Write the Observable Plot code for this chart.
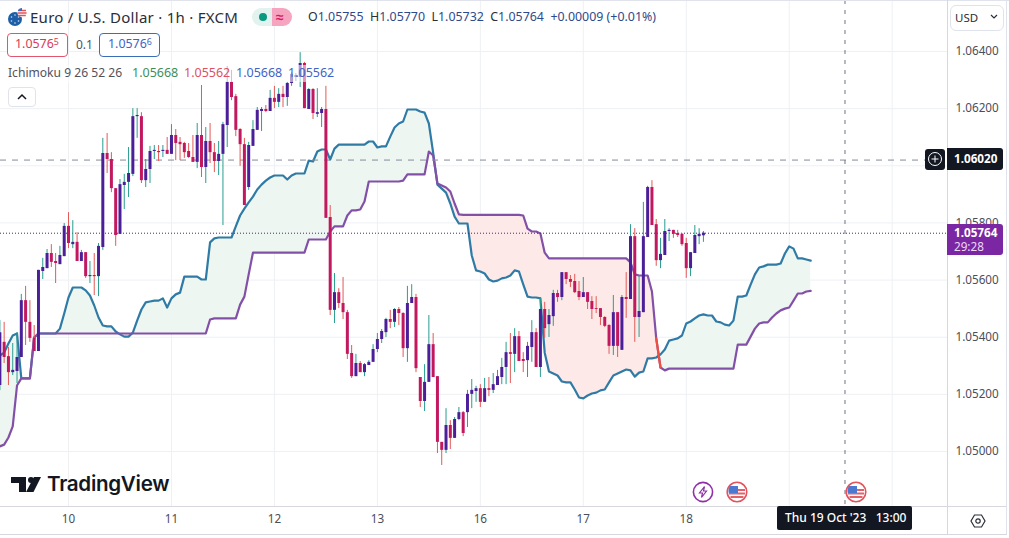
<!DOCTYPE html>
<html><head><meta charset="utf-8">
<script src="https://cdn.jsdelivr.net/npm/d3@7"></script>
<script src="https://cdn.jsdelivr.net/npm/@observablehq/plot@0.6"></script>
<style>
html,body{margin:0;padding:0;background:#fff}
#wrap{position:relative;width:1009px;height:538px;overflow:hidden;font-family:"Noto Sans",sans-serif;color:#2a2e39}
#wrap svg{display:block}
.t{position:absolute;white-space:pre;line-height:1}
.box{position:absolute;box-sizing:border-box}
sup{font-size:.72em;vertical-align:baseline;position:relative;top:-.35em}
</style></head><body><div id="wrap"></div>
<script>
// All candle and cloud values are points above this base price (1 point = 0.00001)
const basePrice = 1.05, pointSize = 0.00001;
const firstBar = -16;   // bar number of the first candle; bar 0 is the start of day 10, 24 bars per day
const openPts = [231,382,332,276,280,329,528,452,396,350,630,640,693,665,654,682,
788,724,732,665,696,612,616,612,714,1043,1022,920,760,931,942,970,1172,1172,948,987,1050,1050,1050,1054,
1040,1106,1082,1078,1050,1029,1012,1106,994,1085,1046,1015,1040,1141,1292,1242,1127,1074,924,1068,1124,1190,1197,1190,
1236,1222,1250,1239,1288,1309,1309,1358,1197,1267,1180,1183,1197,819,494,556,518,486,343,262,308,276,301,312,
357,392,416,462,452,497,483,360,518,539,259,175,242,374,262,32,4,91,46,112,136,136,200,210,
220,172,220,214,231,259,294,346,340,402,322,318,364,416,294,497,444,472,553,539,626,602,595,560,
539,556,525,500,500,469,441,368,486,354,539,532,752,469,486,749,924,794,668,686,770,774,763,760,
728,640,693,752,755];
const highPts = [458,452,364,378,416,550,578,528,441,634,676,707,724,693,718,798,
836,808,766,704,696,665,693,728,1096,1113,1046,920,952,970,1064,1200,1200,1186,1022,1068,1071,1071,1071,1099,
1144,1127,1099,1082,1078,1106,1148,1281,1134,1148,1078,1085,1152,1348,1334,1250,1130,1096,1082,1158,1204,1204,1211,1264,
1278,1270,1278,1292,1326,1323,1396,1362,1270,1270,1270,1204,1278,861,623,570,609,494,371,340,315,308,318,374,
413,427,466,494,500,504,486,578,584,550,259,304,476,413,262,32,150,108,119,154,140,214,252,228,
234,256,259,273,284,326,382,413,430,420,346,382,458,430,539,522,497,564,564,626,626,616,620,595,
609,556,542,542,500,472,444,546,486,546,626,794,780,616,872,928,948,812,746,812,780,774,774,763,
746,696,791,780,770];
const lowPts = [213,308,231,266,238,329,371,382,350,350,602,640,644,588,654,682,
710,710,665,665,606,588,546,542,704,973,906,718,760,847,889,962,1096,938,924,938,1022,1015,1029,1040,
1040,1018,1018,1026,1026,1012,990,959,938,1008,976,966,791,1064,1228,1102,998,861,914,1068,1124,1120,1186,1190,
1200,1204,1204,1208,1278,1295,1274,1200,1197,1162,1169,1134,816,476,448,500,462,322,256,262,276,262,301,312,
346,378,399,430,434,441,329,312,518,276,154,140,242,259,-7,-49,-7,7,46,108,52,84,150,172,
154,172,192,203,231,234,234,238,276,315,276,259,312,294,259,396,399,438,522,528,584,574,553,528,
539,497,462,483,441,434,340,336,329,354,466,532,382,399,486,749,791,648,640,686,735,746,749,718,
606,612,693,724,732];
const closePts = [416,329,276,284,329,528,452,396,350,634,644,693,662,658,686,788,
728,732,665,696,612,616,612,718,1043,1022,920,756,934,942,973,1172,1176,948,987,1050,1054,1046,1054,1040,
1106,1078,1074,1046,1029,1012,1106,994,1085,1046,1015,1040,1144,1292,1239,1124,1074,861,1071,1127,1194,1197,1190,1236,
1222,1250,1239,1288,1320,1316,1358,1200,1267,1183,1186,1197,816,494,556,518,486,340,262,308,276,304,312,357,
392,420,462,452,497,483,360,518,539,290,175,242,374,259,32,4,91,46,112,136,63,200,214,220,
172,220,214,234,262,294,346,340,402,315,315,368,416,294,497,430,476,553,539,626,602,592,556,539,
556,522,497,497,469,438,368,486,368,539,532,752,469,490,752,924,791,668,690,770,774,760,756,724,
640,696,756,760,764];
const spanAPts = [336,346,378,406,413,256,256,256,399,413,413,413,413,413,430,483,
539,574,574,574,564,546,511,469,441,438,438,420,410,402,402,416,458,497,522,525,528,528,536,504,
536,550,556,612,612,612,612,602,602,732,746,749,749,749,749,788,826,850,872,892,917,934,948,959,
966,966,966,952,966,973,973,973,1018,1015,1050,1057,1057,1022,1060,1074,1074,1074,1074,1074,1074,1074,1085,1085,
1064,1068,1068,1102,1134,1148,1155,1197,1197,1197,1190,1186,1148,1046,934,920,906,868,822,798,798,798,686,634,
630,623,602,595,598,606,609,616,634,630,585,542,539,539,536,346,280,273,266,245,242,242,217,189,
186,196,203,206,214,217,242,266,273,280,287,284,262,276,280,326,326,329,340,357,388,392,396,406,
448,455,466,476,480,476,476,455,452,444,441,458,542,542,546,584,620,644,648,654,654,654,658,693,718,710,676,676,672,668];
const spanBPts = [18,24,49,88,231,256,256,256,399,413,
413,413,413,413,413,413,413,413,413,413,
413,413,413,413,413,413,413,413,413,413,
413,413,413,413,413,413,413,413,413,413,
413,413,413,413,413,413,413,413,413,
462,466,466,466,466,466,466,514,542,620,696,696,696,696,696,696,696,696,696,696,696,696,696,
742,742,742,742,742,770,788,788,788,826,844,844,847,875,945,945,945,945,945,945,945,945,948,970,970,970,970,970,
1050,1036,938,931,924,910,868,830,828,828,828,828,828,828,828,828,828,828,828,828,828,828,826,780,770,770,763,696,
676,676,676,676,676,676,676,676,676,676,676,676,676,676,676,676,676,676,676,662,620,616,616,616,560,396,294,284,290,
290,290,290,290,290,290,290,290,290,290,290,290,290,290,290,374,374,374,402,430,448,452,452,469,483,494,500,504,528,553,553,560,562];
const gridPrices = [1.05,1.052,1.054,1.056,1.058,1.06,1.062,1.064];
const labelledPrices = [1.05,1.052,1.054,1.056,1.058,1.062,1.064];
const dayBars = [0,24,48,72,96,120,144,168,192];
const labelledDayBars = [0,24,48,72,96,120,144];
const dayLabels = ["10","11","12","13","16","17","18"];
const lastPrice = 1.05764, crosshairPrice = 1.0602, crosshairBar = 181;

const price = p => basePrice + p * pointSize;
const candles = openPts.map((o,i)=>({bar:firstBar+i,open:price(o),high:price(highPts[i]),low:price(lowPts[i]),close:price(closePts[i]),up:closePts[i]>=o}));
const cloud = spanAPts.map((a,i)=>({bar:firstBar+i,a:price(a),b:price(spanBPts[i])}));
const up = candles.filter(d=>d.up), down = candles.filter(d=>!d.up);
const crossSeg = cloud.filter(d=>d.bar>=137&&d.bar<=138);

const chart = Plot.plot({
  width:1009,height:538,marginTop:0,marginLeft:0,marginRight:62,marginBottom:32,
  style:{fontFamily:'"Noto Sans",sans-serif',fontSize:"11.7px",background:"#fff",color:"#4a4e59"},
  x:{domain:[-15.851,204.895],label:null},
  y:{domain:[1.048075,1.065785],label:null},
  marks:[
    Plot.ruleX(dayBars,{stroke:"#eef0f4",strokeWidth:1}),
    Plot.ruleY(gridPrices,{stroke:"#eef0f4",strokeWidth:1}),
    Plot.areaY(cloud,{x:"bar",y1:"a",y2:d=>Math.min(d.a,d.b),fill:"#edf6f0"}),
    Plot.areaY(cloud,{x:"bar",y1:"b",y2:d=>Math.min(d.a,d.b),fill:"#fdeae8"}),
    Plot.line(cloud,{x:"bar",y:"a",stroke:"#2f7ba6",strokeWidth:2.2}),
    Plot.line(cloud,{x:"bar",y:"b",stroke:"#8350a8",strokeWidth:2.2}),
    Plot.line(crossSeg,{x:"bar",y:"b",stroke:"#ef4f3f",strokeWidth:2.2}),
    Plot.ruleY([lastPrice],{stroke:"#3f2a70",strokeWidth:1,strokeDasharray:"1 2"}),
    Plot.ruleY([crosshairPrice],{stroke:"#868b98",strokeWidth:1,strokeDasharray:"6 6"}),
    Plot.ruleX([crosshairBar],{stroke:"#6f7480",strokeWidth:1,strokeDasharray:"4 6"}),
    Plot.ruleX(up,{x:"bar",y1:"low",y2:"high",stroke:"#2a9d8f",strokeWidth:1}),
    Plot.ruleX(down,{x:"bar",y1:"low",y2:"high",stroke:"#e25a58",strokeWidth:1}),
    Plot.ruleX(up,{x:"bar",y1:"open",y2:"close",stroke:"#4a1f98",strokeWidth:3}),
    Plot.ruleX(down,{x:"bar",y1:"open",y2:"close",stroke:"#c2185f",strokeWidth:3}),
    Plot.axisY(labelledPrices,{anchor:"right",tickSize:0,tickPadding:8,tickFormat:d3.format(".5f"),label:null,fill:"#4a4e59"}),
    Plot.axisX(labelledDayBars,{anchor:"bottom",tickSize:0,tickPadding:8,tickFormat:d=>dayLabels[labelledDayBars.indexOf(d)],label:null,fill:"#4a4e59"})
  ]
});
const wrap = document.getElementById("wrap");
wrap.appendChild(chart);

function put(html){wrap.insertAdjacentHTML("beforeend",html);}
function txt(x,y,s,style=""){put(`<div class="t" style="left:${x}px;top:${y}px;${style}">${s}</div>`);}
function box(x,y,w,h,style=""){put(`<div class="box" style="left:${x}px;top:${y}px;width:${w}px;height:${h}px;${style}"></div>`);}

// frame lines
box(0,0,1009,1,"background:#e0e3eb");
box(947,0,1,534,"background:#d6d8de");
box(0,506,1007,1,"background:#d6d8de");
box(0,534,1007,1,"background:#d6d8de");
box(1006,0,1,534,"background:#e0e3eb");

// header
put(`<svg style="position:absolute;left:7px;top:7px" width="20" height="20" viewBox="0 0 20 20">
<circle cx="8" cy="12" r="7" fill="#1d5fa6"/><g fill="#cfe0f2"><circle cx="8" cy="8" r=".8"/><circle cx="4.5" cy="10" r=".8"/><circle cx="11.5" cy="10" r=".8"/><circle cx="4.5" cy="14" r=".8"/><circle cx="11.5" cy="14" r=".8"/><circle cx="8" cy="16" r=".8"/></g>
<circle cx="15" cy="5.5" r="4.6" fill="#fff"/><path d="M11 3.5h8M10.6 6h9M11.2 8.5h7.6" stroke="#e0565a" stroke-width="1.3"/><path d="M15 1a4.6 4.6 0 0 0-4.2 3H15z" fill="#3f6ec0"/></svg>`);
txt(30,10,"Euro / U.S. Dollar · 1h · FXCM","font-size:15px;letter-spacing:.27px;color:#2a2e39");
box(252,8,20,18,"background:#e2f2ee;border-radius:9px 0 0 9px");
box(272,8,20,18,"background:#f6a5c0;border-radius:0 9px 9px 0");
put(`<div class="box" style="left:259px;top:13px;width:8px;height:8px;border-radius:50%;background:#089981"></div>`);
txt(276,10,"≈","font-size:14px;color:#d81b60;font-weight:700");
const v="color:#2f4a8c";
txt(308,11,`O<span style="${v}">1.05755</span>  H<span style="${v}">1.05770</span>  L<span style="${v}">1.05732</span>  C<span style="${v}">1.05764</span>  <span style="${v}">+0.00009 (+0.01%)</span>`,"font-size:12.4px;color:#2a2e39");

// bid / ask
box(7,33,61,24,"border:1px solid #e0566e;border-radius:4px;background:#fff");
txt(15,38,"1.0576<sup>5</sup>","font-size:12.4px;color:#d9395a");
txt(76,39,"0.1","font-size:12px;color:#50535e");
box(99,33,61,24,"border:1px solid #3b6fb8;border-radius:4px;background:#fff");
txt(108,38,"1.0576<sup>6</sup>","font-size:12.4px;color:#3f63c8");

// indicator legend
box(5,65,332,17,"background:rgba(255,255,255,.55)");
txt(8,67,"Ichimoku 9 26 52 26","font-size:12.1px;color:#50535e");
txt(132,67,"1.05668","font-size:12.5px;color:#3e8e5a");
txt(184,67,"1.05562","font-size:12.5px;color:#df4f63");
txt(236,67,"1.05668","font-size:12.5px;color:#3f63c8");
txt(288,67,"1.05562","font-size:12.5px;color:#3f63c8");
box(8,87,28,20,"border:1px solid #e0e3eb;border-radius:4px;background:#fff");
put(`<svg style="position:absolute;left:16px;top:92px" width="12" height="10"><path d="M2 7l4-4 4 4" fill="none" stroke="#131722" stroke-width="1.5"/></svg>`);

// currency button
box(950,5,54,26,"border:1px solid #e0e3eb;border-radius:6px;background:#fff");
txt(955,12,"USD","font-size:11.5px;color:#2a2e39");
put(`<svg style="position:absolute;left:989px;top:13px" width="10" height="8"><path d="M2 2l3 3 3-3" fill="none" stroke="#2a2e39" stroke-width="1.2"/></svg>`);

// price tags
box(925,149,20,21,"background:#131722;border-radius:3px");
put(`<svg style="position:absolute;left:927px;top:151px" width="16" height="16"><circle cx="8" cy="8" r="6.5" fill="none" stroke="#fff"/><path d="M8 4.5v7M4.5 8h7" stroke="#fff"/></svg>`);
box(947,148,56,22,"background:#131722;border-radius:0 3px 3px 0");
txt(954,153,"1.06020","font-size:11.7px;font-weight:700;color:#fff");
box(947,224,56,31,"background:#7b27a3;border-radius:0 3px 3px 0");
txt(954,227,"1.05764","font-size:11.7px;font-weight:700;color:#fff");
txt(954,241,"29:28","font-size:11.7px;color:#ecd9f3");

// logo
put(`<svg style="position:absolute;left:10px;top:476px" width="33" height="18" viewBox="0 0 33 18"><path d="M1 1h15v15H9V7H1z" fill="#131722"/><circle cx="21" cy="4" r="3" fill="#131722"/><path d="M24 1h7l-7.5 15h-7.5z" fill="#131722"/></svg>`);
txt(47,474,"TradingView","font-family:Inter,sans-serif;font-size:20.6px;font-weight:600;color:#131722;letter-spacing:-.3px");

// calendar events
function flag(x){return `<svg style="position:absolute;left:${x-11}px;top:481px" width="22" height="22" viewBox="0 0 22 22"><circle cx="11" cy="11" r="9.8" fill="#fff" stroke="#e4525c" stroke-width="1.6"/><path d="M3 9h16M3 12.5h16M4.5 16h13" stroke="#e0636a" stroke-width="2"/><path d="M4 5h8v7H2.8a8 8 0 0 1 1.2-7z" fill="#4c78d0"/></svg>`;}
put(`<svg style="position:absolute;left:692px;top:481px" width="22" height="22" viewBox="0 0 22 22"><circle cx="11" cy="11" r="9.6" fill="#fff" stroke="#9030a8" stroke-width="1.6"/><path d="M12.5 5.5L7.5 12h3l-1 4.5 5-6.5h-3z" fill="none" stroke="#9030a8" stroke-width="1.2"/></svg>`);
put(flag(737)); put(flag(856));

// crosshair time
box(777,506,135,24,"background:#131722;border-radius:2px");
txt(785,512,"Thu 19 Oct '23   13:00","font-size:12px;font-weight:500;color:#fff");

// settings
put(`<svg style="position:absolute;left:970px;top:513px" width="16" height="16" viewBox="0 0 16 16"><path d="M4.5 2h7L15 8l-3.5 6h-7L1 8z" fill="none" stroke="#2a2e39" stroke-width="1.2"/><circle cx="8" cy="8" r="2.2" fill="none" stroke="#2a2e39" stroke-width="1.2"/></svg>`);
</script></body></html>
